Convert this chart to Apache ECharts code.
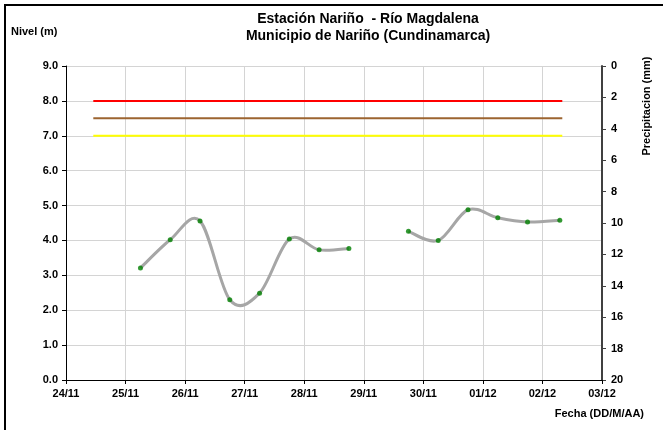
<!DOCTYPE html>
<html>
<head>
<meta charset="utf-8">
<script src="https://cdn.jsdelivr.net/npm/echarts@6/dist/echarts.min.js"></script>
<style>
  html, body { margin: 0; padding: 0; background: #fff; }
  #chart { width: 663px; height: 430px; }
</style>
</head>
<body>
<div id="chart"></div>
<script>
// etiquetas del eje de fechas (un dia por tick)
const diasEje = ['24/11', '25/11', '26/11', '27/11', '28/11', '29/11', '30/11', '01/12', '02/12', '03/12'];

// lecturas de nivel (m), null = sin dato
const fechas = ['25/11 06', '25/11 18', '26/11 06', '26/11 18', '27/11 06', '27/11 18', '28/11 06', '28/11 18',
  '29/11 06', '29/11 18', '30/11 06', '30/11 18', '01/12 06', '01/12 18', '02/12 07'];
const nivel = [3.21, 4.02, 4.56, 2.30, 2.49, 4.04, 3.73, 3.77, null, 4.26, 4.00, 4.88, 4.65, 4.53, 4.58];

// umbrales de alerta (m)
const umbralRojo = 8.0;
const umbralNaranja = 7.5;
const umbralAmarillo = 7.0;
const umbralDesde = '24/11 11';
const umbralHasta = '02/12 08';

// precipitacion (mm) - no hay barras en el periodo
const precipitacion = [];

function aDias(s) {
  let [d, h] = s.split(' ');
  return diasEje.indexOf(d) + parseInt(h) / 24;
}

let puntos = fechas.map((f, i) => [aDias(f), nivel[i]]);

let dom = document.getElementById('chart');
let myChart = echarts.init(dom);

const fuente = 'Liberation Sans, Arial, sans-serif';
const etiqueta = { color: '#000', fontWeight: 'bold', fontSize: 11, fontFamily: fuente };

function umbral(nombre, valor, color) {
  return {
    name: nombre,
    type: 'line',
    data: [[aDias(umbralDesde), valor], [aDias(umbralHasta), valor]],
    showSymbol: false,
    symbol: 'none',
    lineStyle: { color: color, width: 2 },
    z: 3,
    silent: true
  };
}

function valido(i) {
  return i >= 0 && i < nivel.length && nivel[i] != null;
}

// curva suavizada tipo Excel (Catmull-Rom) entre el punto i y el i+1
function tramo(params, api) {
  let i = params.dataIndex;
  if (!valido(i) || !valido(i + 1)) return null;
  let a = valido(i - 1) ? i - 1 : i;
  let d = valido(i + 2) ? i + 2 : i + 1;
  let p0 = api.coord(puntos[a]);
  let p1 = api.coord(puntos[i]);
  let p2 = api.coord(puntos[i + 1]);
  let p3 = api.coord(puntos[d]);
  return {
    type: 'bezierCurve',
    shape: {
      x1: p1[0], y1: p1[1],
      x2: p2[0], y2: p2[1],
      cpx1: p1[0] + (p2[0] - p0[0]) / 6,
      cpy1: p1[1] + (p2[1] - p0[1]) / 6,
      cpx2: p2[0] - (p3[0] - p1[0]) / 6,
      cpy2: p2[1] - (p3[1] - p1[1]) / 6
    },
    style: { stroke: '#a6a6a6', lineWidth: 3, fill: 'none' }
  };
}

let option = {
  animation: false,
  title: {
    text: 'Estación Nariño  - Río Magdalena\nMunicipio de Nariño (Cundinamarca)',
    left: 363,
    top: 6,
    textAlign: 'center',
    textStyle: { fontFamily: fuente, fontWeight: 'bold', fontSize: 14, color: '#000', lineHeight: 17 }
  },
  grid: { left: 66, right: 61, top: 66, bottom: 50 },
  xAxis: {
    type: 'value',
    min: 0,
    max: diasEje.length - 1,
    interval: 1,
    axisLine: { lineStyle: { color: '#000', width: 1 } },
    axisTick: { show: true, length: 4, lineStyle: { color: '#000' } },
    axisLabel: Object.assign({ margin: 8, formatter: v => diasEje[v] }, etiqueta),
    splitLine: { show: true, lineStyle: { color: '#d4d4d4', width: 1 } }
  },
  yAxis: [
    {
      type: 'value',
      min: 0,
      max: 9,
      interval: 1,
      axisLine: { show: true, lineStyle: { color: '#000', width: 1 } },
      axisTick: { show: true, length: 4, lineStyle: { color: '#000' } },
      axisLabel: Object.assign({ margin: 8, formatter: v => v.toFixed(1) }, etiqueta),
      splitLine: { show: true, lineStyle: { color: '#d4d4d4', width: 1 } }
    },
    {
      type: 'value',
      position: 'right',
      inverse: true,
      min: 0,
      max: 20,
      interval: 2,
      axisLine: { show: true, lineStyle: { color: '#404040', width: 2 } },
      axisTick: { show: true, length: 4, lineStyle: { color: '#404040' } },
      axisLabel: Object.assign({ margin: 9 }, etiqueta),
      splitLine: { show: false }
    }
  ],
  graphic: [
    {
      type: 'rect',
      shape: { x: 5, y: 5, width: 700, height: 460 },
      style: { fill: 'none', stroke: '#000', lineWidth: 2 },
      silent: true
    },
    {
      type: 'text', left: 11, top: 26,
      style: { text: 'Nivel (m)', font: 'bold 11px ' + fuente, fill: '#000' }
    },
    {
      type: 'text', right: 19, top: 408,
      style: { text: 'Fecha (DD/M/AA)', font: 'bold 11px ' + fuente, fill: '#000' }
    },
    {
      type: 'text', x: 647, y: 106, rotation: Math.PI / 2,
      style: { text: 'Precipitacion (mm)', font: 'bold 11px ' + fuente, fill: '#000', align: 'center', verticalAlign: 'middle' }
    }
  ],
  series: [
    umbral('Alerta roja', umbralRojo, '#ff0000'),
    umbral('Alerta naranja', umbralNaranja, '#9c6430'),
    umbral('Alerta amarilla', umbralAmarillo, '#ffff00'),
    {
      name: 'Precipitacion',
      type: 'bar',
      yAxisIndex: 1,
      data: precipitacion
    },
    {
      name: 'Nivel (curva)',
      type: 'custom',
      renderItem: tramo,
      data: puntos.map(p => [p[0], p[1] == null ? 0 : p[1]]),
      z: 4,
      silent: true
    },
    {
      name: 'Nivel',
      type: 'scatter',
      data: puntos.filter(p => p[1] != null),
      symbol: 'circle',
      symbolSize: 5,
      itemStyle: { color: '#008000' },
      z: 5
    }
  ]
};

myChart.setOption(option);
</script>
</body>
</html>
